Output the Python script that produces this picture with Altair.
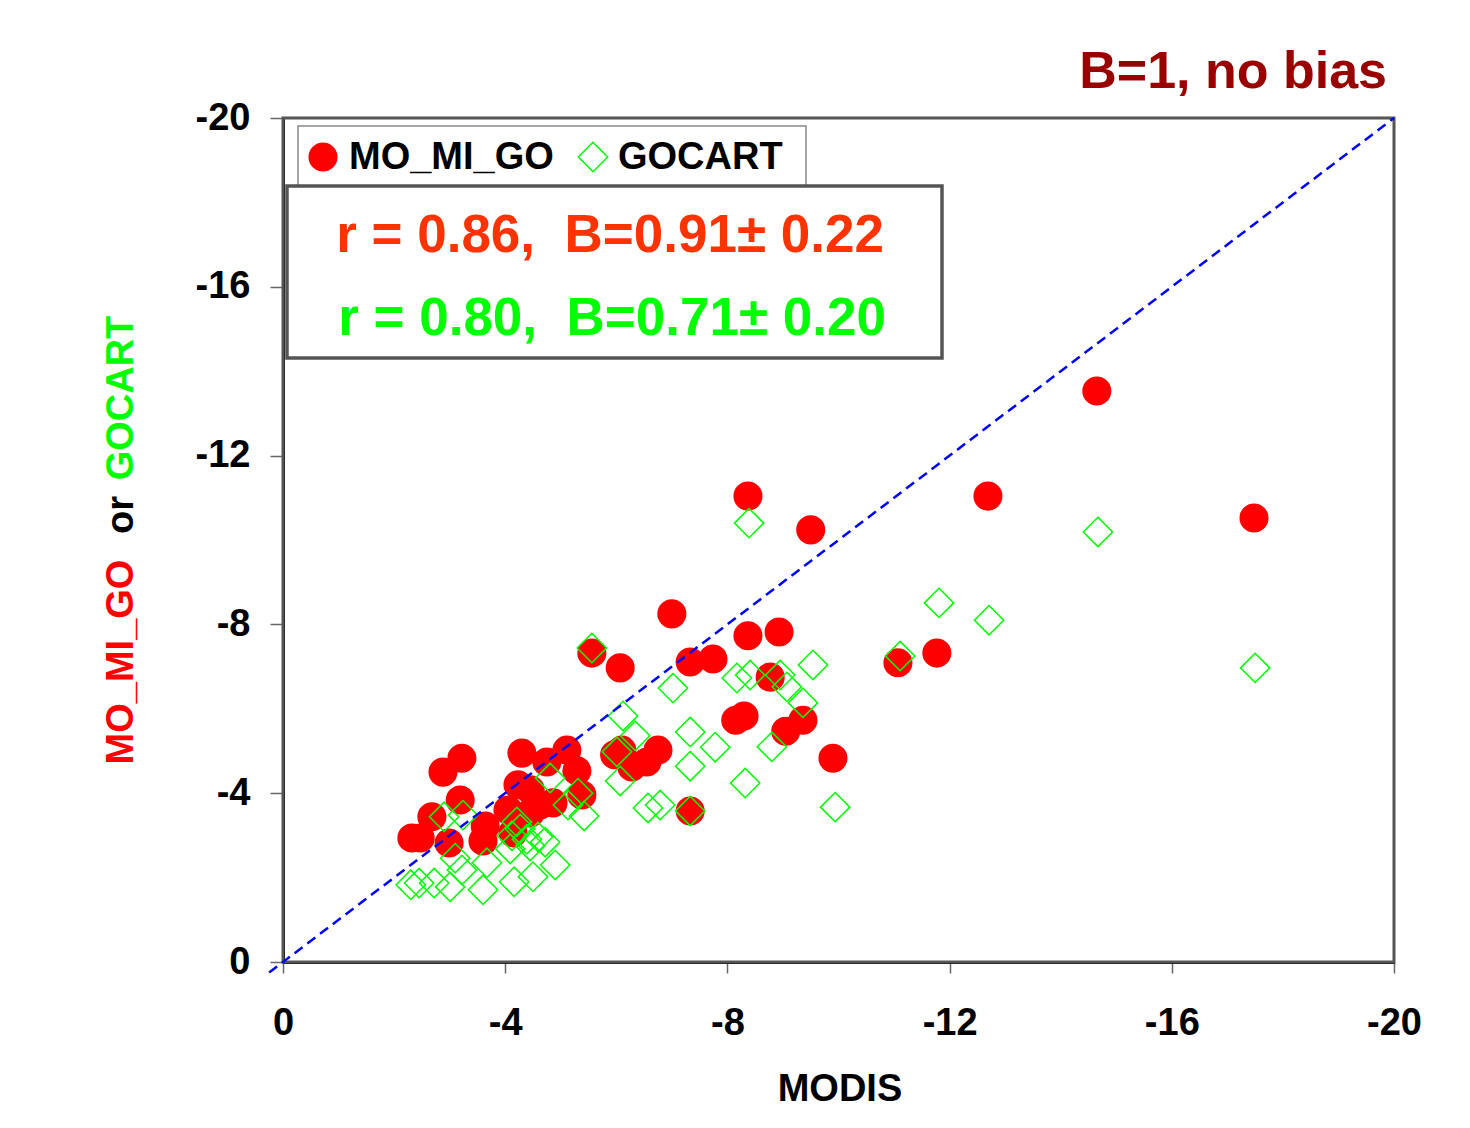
import altair as alt
import pandas as pd

FONT = "Liberation Sans"

# ---- data ----
series_names = ["MO_MI_GO", "GOCART"]

red_x = [-14.65, -17.48, -12.69, -8.37, -9.50, -7.00, -8.37, -8.93, -5.56, -6.07,
         -7.33, -7.74, -8.77, -11.07, -11.77, -8.15, -8.30, -9.36, -9.05, -9.90,
         -7.33, -6.75, -6.55, -6.28, -5.97, -6.10, -5.11, -5.29, -5.38, -4.75,
         -4.30, -4.86, -4.45, -4.23, -4.45, -4.14, -3.64, -3.60, -3.19, -3.22,
         -2.88, -2.68, -2.99, -2.32, -2.47, -4.05, -4.63]
red_y = [-13.53, -10.52, -11.04, -11.04, -10.24, -8.25, -7.73, -7.82, -7.32, -6.97,
         -7.11, -7.18, -6.75, -7.09, -7.32, -5.73, -5.83, -5.73, -5.47, -4.83,
         -3.58, -5.02, -4.74, -4.62, -4.91, -5.02, -5.02, -4.53, -3.96, -4.74,
         -4.95, -3.77, -4.08, -4.20, -3.53, -3.06, -3.22, -2.87, -3.84, -4.83,
         -4.50, -3.44, -2.82, -2.94, -2.94, -3.60, -3.72]

green_x = [-14.67, -17.50, -11.81, -12.71, -8.39, -11.11, -9.94, -5.56, -7.02, -9.54,
           -6.12, -6.34, -6.01, -6.07, -7.33, -7.78, -7.33, -8.17, -8.41, -8.95,
           -9.07, -9.36, -8.80, -8.32, -6.57, -6.79, -7.33, -5.31, -5.42, -5.13,
           -4.81, -2.90, -3.24, -3.10, -3.22, -2.30, -2.45, -2.72, -3.01, -3.60,
           -3.67, -4.16, -4.50, -4.90, -4.21, -4.27, -4.12, -4.39, -4.59, -4.45,
           -4.09, -4.72]
green_y = [-10.19, -6.97, -8.51, -8.10, -10.40, -7.25, -3.67, -7.44, -6.49, -7.04,
           -5.83, -5.36, -4.98, -4.29, -5.45, -5.09, -4.64, -6.73, -6.80, -6.80,
           -6.52, -6.14, -5.10, -4.24, -3.65, -3.72, -3.58, -4.00, -3.46, -3.72,
           -4.36, -3.44, -3.48, -2.46, -2.18, -1.83, -1.87, -1.87, -1.78, -1.71,
           -2.35, -1.90, -2.02, -2.30, -3.32, -3.15, -2.99, -2.91, -2.96, -2.75,
           -2.68, -2.84]

one_to_one_x = [0.25, -20.0]
one_to_one_y = [0.25, -20.0]

tick_values = [0, -4, -8, -12, -16, -20]

NB = "\u00a0"
stats_lines = ["r = 0.86," + NB + NB + "B=0.91\u00b1 0.22",
               "r = 0.80," + NB + NB + "B=0.71\u00b1 0.20"]
stats_colors = ["#FF3300", "#00FF00"]
y_title_parts = ["MO_MI_GO", "or", "GOCART"]
y_title_colors = ["#FF0000", "#000000", "#00FF00"]
x_title = "MODIS"
corner_note = "B=1, no bias"

W, H = 1111, 844

# ---- tables ----
pts = pd.concat([
    pd.DataFrame({"MODIS": red_x, "model": red_y, "series": series_names[0]}),
    pd.DataFrame({"MODIS": green_x, "model": green_y, "series": series_names[1]}),
], ignore_index=True)
line_df = pd.DataFrame({"MODIS": one_to_one_x, "model": one_to_one_y})

xscale = alt.Scale(domain=[0, -20], nice=False, zero=False)
yscale = alt.Scale(domain=[0, -20], nice=False, zero=False)

x_axis = alt.Axis(values=tick_values, labelExpr="toString(datum.value)",
                  labelFont=FONT, labelFontSize=38, labelFontWeight="bold",
                  labelColor="black", labelPadding=31, tickSize=11, labelFlush=False,
                  labelOverlap=False, tickColor="#666666", tickWidth=1.5,
                  domainColor="black", domainWidth=3, grid=False, title=None)
y_axis = alt.Axis(values=tick_values, labelExpr="toString(datum.value)",
                  labelFont=FONT, labelFontSize=38, labelFontWeight="bold",
                  labelColor="black", labelPadding=20, tickSize=13, labelFlush=False,
                  labelOverlap=False, tickColor="#666666", tickWidth=1.5,
                  domainColor="black", domainWidth=3, grid=False, title=None)

frame = alt.Chart(pd.DataFrame({"k": [0]})).mark_rect(
    fill="transparent", stroke="#555555", strokeWidth=3
).encode(x=alt.value(0), x2=alt.value(W), y=alt.value(0), y2=alt.value(H))

points = alt.Chart(pts).mark_point(opacity=1, strokeWidth=1.5).encode(
    x=alt.X("MODIS:Q", scale=xscale, axis=x_axis),
    y=alt.Y("model:Q", scale=yscale, axis=y_axis),
    shape=alt.Shape("series:N", scale=alt.Scale(domain=series_names, range=["circle", "diamond"]), legend=None),
    fill=alt.Fill("series:N", scale=alt.Scale(domain=series_names, range=["#FF0000", "transparent"]), legend=None),
    stroke=alt.Stroke("series:N", scale=alt.Scale(domain=series_names, range=["#FF0000", "#00FF00"]), legend=None),
    size=alt.Size("series:N", scale=alt.Scale(domain=series_names, range=[760, 860]), legend=None),
)

diag = alt.Chart(line_df).mark_line(color="#0000FF", strokeDash=[10, 6], strokeWidth=2.5, clip=False).encode(
    x=alt.X("MODIS:Q", scale=xscale),
    y=alt.Y("model:Q", scale=yscale),
)

# ---- legend (drawn by hand, like the original boxed key) ----
legend_box = alt.Chart(pd.DataFrame({"k": [0]})).mark_rect(
    fill="white", stroke="#888888", strokeWidth=1.5
).encode(x=alt.value(15), x2=alt.value(523), y=alt.value(8), y2=alt.value(75))

legend_df = pd.DataFrame({"series": series_names, "sx": [40, 310], "tx": [66, 335]})
legend_sym = alt.Chart(legend_df).mark_point(opacity=1, strokeWidth=1.5).encode(
    x=alt.X("sx:Q", scale=None),
    y=alt.value(39),
    shape=alt.Shape("series:N", scale=alt.Scale(domain=series_names, range=["circle", "diamond"]), legend=None),
    fill=alt.Fill("series:N", scale=alt.Scale(domain=series_names, range=["#FF0000", "transparent"]), legend=None),
    stroke=alt.Stroke("series:N", scale=alt.Scale(domain=series_names, range=["#FF0000", "#00FF00"]), legend=None),
    size=alt.Size("series:N", scale=alt.Scale(domain=series_names, range=[560, 620]), legend=None),
)
legend_txt = alt.Chart(legend_df).mark_text(
    font=FONT, fontSize=38, fontWeight="bold", align="left", baseline="middle", color="black"
).encode(text="series:N", x=alt.X("tx:Q", scale=None), y=alt.value(40))

stats_box = alt.Chart(pd.DataFrame({"k": [0]})).mark_rect(
    fill="white", stroke="#555555", strokeWidth=3.5
).encode(x=alt.value(4), x2=alt.value(659), y=alt.value(68), y2=alt.value(240))

stats_df = pd.DataFrame({"text": stats_lines, "color": stats_colors,
                         "px": [327, 329], "py": [134, 217]})
stats_text = alt.Chart(stats_df).mark_text(font=FONT, fontSize=53, fontWeight="bold",
                                           align="center", baseline="alphabetic").encode(
    text="text:N",
    color=alt.Color("color:N", scale=None),
    x=alt.X("px:Q", scale=None),
    y=alt.Y("py:Q", scale=None),
)

ytitle_df = pd.DataFrame({"text": y_title_parts, "color": y_title_colors,
                          "px": [-161, -161, -161], "py": [544, 397, 280]})
ytitle = alt.Chart(ytitle_df).mark_text(font=FONT, fontSize=38, fontWeight="bold",
                                        align="center", baseline="middle", angle=270).encode(
    text="text:N",
    color=alt.Color("color:N", scale=None),
    x=alt.X("px:Q", scale=None),
    y=alt.Y("py:Q", scale=None),
)

xtitle = alt.Chart(pd.DataFrame({"text": [x_title]})).mark_text(
    font=FONT, fontSize=38, fontWeight="bold", align="center", baseline="alphabetic", color="black"
).encode(text="text:N", x=alt.value(557), y=alt.value(983))

note = alt.Chart(pd.DataFrame({"text": [corner_note]})).mark_text(
    font=FONT, fontSize=52, fontWeight="bold", align="right", baseline="alphabetic", color="#990000"
).encode(text="text:N", x=alt.value(1104), y=alt.value(-30))

chart = alt.layer(frame, points, diag, legend_box, legend_sym, legend_txt,
                  stats_box, stats_text, ytitle, xtitle, note).properties(
    width=W, height=H,
    autosize=alt.AutoSizeParams(type="none"),
    padding={"left": 275, "top": 110, "right": 60, "bottom": 150},
).configure_view(strokeWidth=0).configure(background="white")

chart.save("out.html", embed_options={"renderer": "svg", "actions": False})
